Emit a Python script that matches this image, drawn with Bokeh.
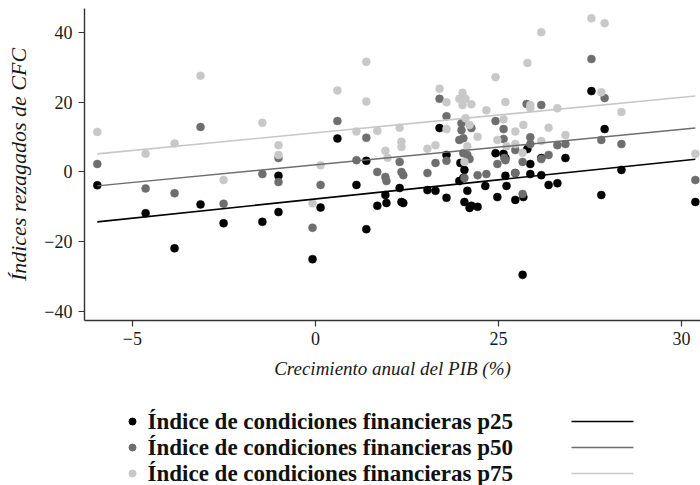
from bokeh.plotting import figure
from bokeh.models import Range1d, FixedTicker
from bokeh.layouts import column
from bokeh.embed import file_html
from bokeh.resources import INLINE
from bokeh.core.properties import value

# ---------------- data ----------------
series_names = [
    "Índice de condiciones financieras p25",
    "Índice de condiciones financieras p50",
    "Índice de condiciones financieras p75",
]
series_colors = ["#000000", "#6e6e6e", "#c8c8c8"]

x_p25 = [-5.96, -4.64, -3.85, -3.14, -2.51, -1.45, -1.01, -1.01, -0.08, 0.14, 0.60, 1.12, 1.39, 1.39,
         1.69, 1.91, 1.94, 2.30, 2.35, 2.40, 3.06, 3.28, 3.39, 3.58, 3.58, 3.93, 4.04, 4.07, 4.07,
         4.15, 4.21, 4.26, 4.43, 3.96, 4.64, 4.92, 5.14, 5.19, 4.97, 5.22, 5.19, 5.46, 5.46, 5.68,
         5.79, 5.87, 5.87, 6.17, 6.17, 6.37, 6.61, 6.83, 7.54, 7.90, 7.81, 8.36, 10.38, 5.66]
y_p25 = [-3.8, -11.8, -21.9, -9.3, -14.7, -14.3, -1.1, -11.5, -25.0, -10.2, 9.6, -3.7, 3.2, -16.4,
         -9.7, -6.6, -8.9, -4.6, -8.6, -8.9, -5.2, -5.4, 12.6, 4.9, -7.4, -2.6, -1.7, 0.6, -8.6,
         -5.4, -10.3, -9.7, -10.0, 2.6, -4.0, 5.4, 5.2, 4.0, -7.2, -4.0, -1.1, -0.3, -8.0, -7.2,
         6.6, 2.3, -0.6, -0.9, 4.0, -3.7, -3.2, 4.0, 23.2, 12.3, -6.6, 0.6, -8.6, -29.5]

x_p50 = [-5.96, -4.64, -3.85, -3.14, -2.51, -1.45, -1.01, -1.01, -0.08, 0.14, 0.60, 1.12, 1.39, 1.69,
         1.91, 1.94, 2.30, 2.35, 2.40, 3.06, 3.28, 3.39, 3.58, 3.58, 3.99, 3.99, 3.93, 4.04, 4.04,
         4.15, 4.21, 4.26, 4.07, 4.43, 4.67, 4.92, 5.14, 5.14, 5.19, 5.16, 4.97, 5.46, 5.46, 5.66,
         5.77, 5.87, 5.87, 5.66, 6.17, 6.17, 6.37, 6.61, 6.83, 7.54, 7.90, 7.81, 8.36, 10.38]
y_p50 = [2.3, -4.7, -6.1, 12.9, -9.1, -0.6, 4.0, -2.9, -16.0, -3.7, 14.6, 3.4, 9.8, 0.0,
         -1.4, -2.6, 2.9, 0.0, -0.9, -0.3, 2.6, 21.0, 16.0, 3.2, 14.0, 12.0, 9.2, 9.7, 5.4,
         4.9, 3.7, 12.6, -1.7, -0.9, -0.6, 14.6, 12.3, 9.5, 3.4, 4.0, 2.3, -0.3, 6.3, 2.9,
         19.5, 10.0, 8.0, -6.3, 19.2, 3.7, 4.9, 7.7, 8.0, 32.4, 21.2, 9.2, 8.0, -2.3]

x_p75 = [-5.96, -4.64, -3.85, -3.14, -2.51, -1.45, -1.01, -1.01, -0.08, 0.14, 0.60, 1.12, 1.39, 1.39,
         1.69, 1.91, 1.97, 2.30, 2.35, 2.35, 3.06, 3.28, 3.39, 3.58, 3.58, 3.93, 4.02, 4.10, 4.02,
         4.26, 4.10, 4.21, 4.15, 4.43, 4.07, 4.67, 4.92, 5.14, 5.19, 4.97, 5.22, 5.46, 5.46, 5.66,
         5.68, 5.79, 5.87, 5.87, 6.17, 6.17, 6.37, 6.61, 6.83, 7.54, 7.90, 7.81, 8.36, 10.38]
y_p75 = [11.5, 5.2, 8.2, 27.6, -2.3, 14.1, 7.7, 4.9, -9.0, 1.9, 23.4, 11.6, 31.6, 20.2,
         11.8, 6.1, 4.1, 12.7, 8.7, 7.2, 6.7, 7.7, 23.9, 20.0, 12.3, 21.0, 22.7, 21.0, 19.2,
         19.4, 15.4, 13.5, 7.4, 10.1, 2.9, 17.7, 27.2, 15.1, 20.1, 9.2, 7.4, 11.6, 8.0, 5.5,
         13.5, 31.3, 19.2, 18.3, 40.1, 8.9, 12.7, 18.3, 10.6, 44.1, 42.7, 22.9, 17.2, 5.2]

# fitted lines
fit_intercepts = [-7.74, 2.06, 11.26]
fit_slopes = [1.10, 1.016, 1.016]
fit_x = [-5.96, 10.38]

x_ticks = [-5, 0, 5, 10]
x_tick_labels = ["−5", "0", "25", "30"]
y_ticks = [-40, -20, 0, 20, 40]
y_tick_labels = ["−40", "−20", "0", "20", "40"]

x_title = "Crecimiento anual del PIB (%)"
y_title = "Índices rezagados de CFC"

SERIF = "Liberation Serif"

# ---------------- main plot ----------------
p = figure(width=700, height=390, output_backend="svg", toolbar_location=None,
           x_range=Range1d(-6.31, 10.52), y_range=Range1d(-42.6, 46.9),
           min_border_left=84, min_border_right=0, min_border_top=8, min_border_bottom=70)
p.outline_line_color = None
p.xgrid.visible = False
p.ygrid.visible = False
p.background_fill_color = "white"

xs_all = [x_p25, x_p50, x_p75]
ys_all = [y_p25, y_p50, y_p75]
line_widths = [1.6, 1.4, 1.6]
for xs, ys, col in zip(xs_all, ys_all, series_colors):
    p.scatter(xs, ys, size=8, fill_color=col, line_color=col, line_width=0.5)
for col, b, m, lw in zip(series_colors, fit_intercepts, fit_slopes, line_widths):
    p.line(fit_x, [b + m * v for v in fit_x], line_color=col, line_width=lw)

for ax in (p.xaxis[0], p.yaxis[0]):
    ax.axis_line_color = "#333333"
    ax.axis_line_width = 1.4
    ax.major_tick_line_color = "#333333"
    ax.major_tick_line_width = 1.2
    ax.major_tick_out = 6
    ax.major_tick_in = 0
    ax.minor_tick_line_color = None
    ax.major_label_text_font = SERIF
    ax.major_label_text_font_size = "18px"
    ax.major_label_text_color = "#1a1a1a"
    ax.axis_label_text_font = SERIF
    ax.axis_label_text_font_style = "italic"
    ax.axis_label_text_color = "#1a1a1a"

p.xaxis[0].ticker = FixedTicker(ticks=x_ticks)
p.xaxis[0].major_label_overrides = dict(zip(x_ticks, x_tick_labels))
p.xaxis[0].major_label_standoff = 5
p.xaxis[0].axis_label = x_title
p.xaxis[0].axis_label_standoff = 10
p.xaxis[0].axis_label_text_font_size = "19px"

p.yaxis[0].ticker = FixedTicker(ticks=y_ticks)
p.yaxis[0].major_label_overrides = dict(zip(y_ticks, y_tick_labels))
p.yaxis[0].major_label_standoff = 6
p.yaxis[0].axis_label = y_title
p.yaxis[0].axis_label_standoff = 10
p.yaxis[0].axis_label_text_font_size = "22px"

# ---------------- legend (separate strip below; its frame aligns with the plot frame) ----------------
leg = figure(width=700, height=95, output_backend="svg", toolbar_location=None,
             x_range=Range1d(84, 700), y_range=Range1d(95, 0),
             x_axis_type=None, y_axis_type=None,
             min_border=0, min_border_left=84, min_border_right=0,
             min_border_top=0, min_border_bottom=0)
leg.outline_line_color = None
leg.xgrid.visible = False
leg.ygrid.visible = False

row_y = [31, 57, 83]
for name, col, ry, lw in zip(series_names, series_colors, row_y, line_widths):
    leg.scatter([132], [ry], size=7, fill_color=col, line_color=col)
    leg.text([147], [ry], text=[name], text_font=value(SERIF), text_font_style="bold",
             text_font_size="23px", text_baseline="middle", text_align="left", text_color="#111111")
    leg.line([571, 633], [ry, ry], line_color=col, line_width=lw)

layout = column(p, leg, spacing=0)
open("out.html", "w").write(file_html(layout, INLINE))
